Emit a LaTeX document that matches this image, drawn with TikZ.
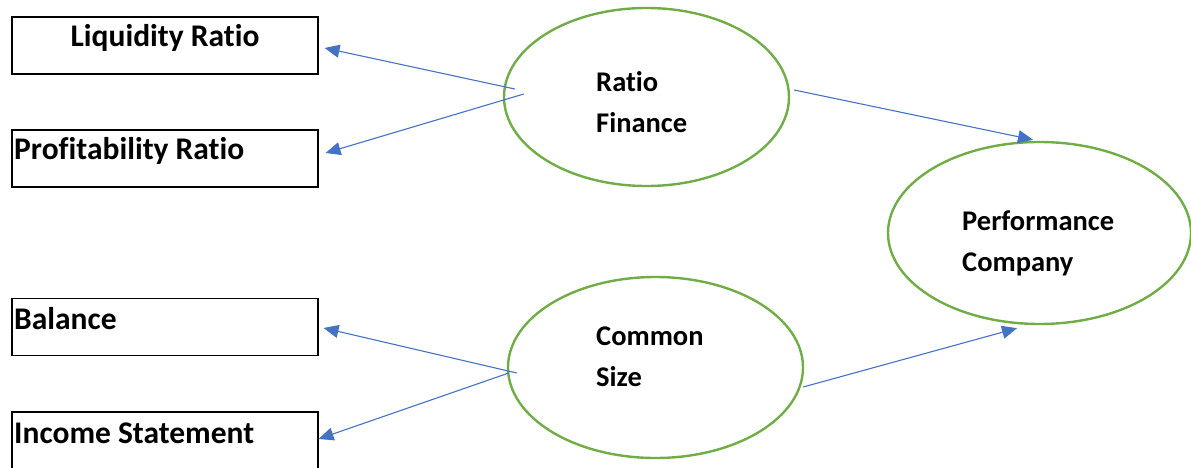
\documentclass[tikz,border=0pt]{standalone}
\usepackage{fontspec}
\setmainfont{Carlito}[Ligatures={NoCommon,NoRequired,NoContextual}]
\usetikzlibrary{arrows.meta,calc,shapes.geometric}
\definecolor{arrblue}{HTML}{4472C4}
\definecolor{ellgreen}{HTML}{70AD47}
\begin{document}
\begin{tikzpicture}[x=1pt,y=-1pt,
  boxnode/.style={draw=black,line width=1.1pt,rectangle,minimum width=306pt,minimum height=57pt,inner sep=0pt},
  ellnode/.style={draw=ellgreen,line width=2.4pt,ellipse,inner sep=0pt},
  boxtext/.style={inner sep=0pt,font=\fontsize{31.5}{38}\selectfont\bfseries},
  elltext/.style={inner sep=0pt,align=left,font=\fontsize{28.5}{41}\selectfont\bfseries},
  conn/.style={draw=arrblue,line width=1.1pt,-{Triangle[length=15pt,width=13pt]}}]
\useasboundingbox (0,0) rectangle (1191,468);
% boxes
\node[boxnode] (b1) at (165,45.5) {};
\node[boxnode] (b2) at (165,158.5) {};
\node[boxnode] (b3) at (165,327) {};
\node[boxnode] (b4) at (165,440.5) {};
\node[boxtext,anchor=base] (t1) at (165,47) {Liquidity Ratio};
\node[boxtext,anchor=base west] (t2) at (14,160) {Profitability Ratio};
\node[boxtext,anchor=base west] (t3) at (14,329) {Balance};
\node[boxtext,anchor=base west] (t4) at (14,443) {Income Statement};
% ellipses
\node[ellnode,minimum width=285pt,minimum height=178pt] (rf) at (646.5,97) {};
\node[ellnode,minimum width=295pt,minimum height=181pt] (cs) at (655.5,367.5) {};
\node[ellnode,minimum width=303pt,minimum height=182pt] (pc) at (1039.5,233) {};
\node[elltext,anchor=north west] (rft) at (596,71.5) {Ratio\\Finance};
\node[elltext,anchor=north west] (cst) at (596,327) {Common\\Size};
\node[elltext,anchor=north west] (pct) at (962,210) {Performance\\Company};
% connectors
\path[conn] ($(rf.west)+(12,-8)$) -- ($(b1.east)+(6,2.5)$);
\path[conn] ($(rf.west)+(21,-3)$) -- ($(b2.east)+(7,-5.5)$);
\path[conn] ($(rf.east)+(4,-7)$) -- ($(pc.north)+(-6.5,-1)$);
\path[conn] ($(cs.east)+(-1,19.5)$) -- ($(pc.south)+(-22.5,3)$);
\path[conn] ($(cs.west)+(10,5.5)$) -- ($(b3.east)+(5,1)$);
\path[conn] ($(cs.west)+(2,5.5)$) -- ($(b4.east)+(0,-1.5)$);
\end{tikzpicture}
\end{document}
